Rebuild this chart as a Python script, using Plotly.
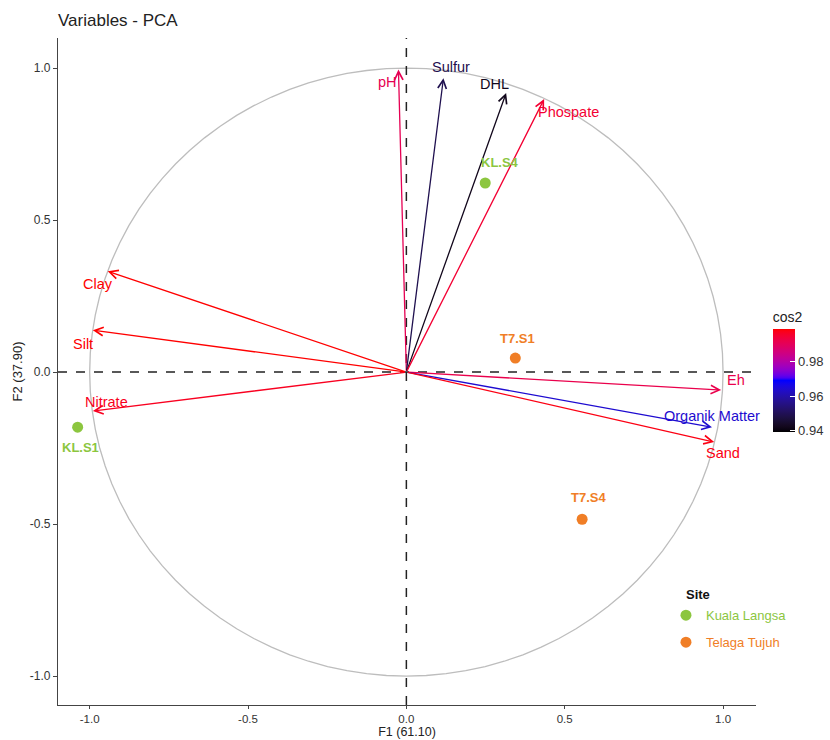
import numpy as np
import plotly.graph_objects as go

# ---- data ----
variables = ["pH", "Sulfur", "DHL", "Phospate", "Clay", "Silt", "Nitrate", "Eh", "Organik Matter", "Sand"]
var_x = [-0.025, 0.117, 0.315, 0.435, -0.943, -0.990, -0.990, 0.994, 0.965, 0.972]
var_y = [0.995, 0.967, 0.918, 0.898, 0.332, 0.138, -0.128, -0.059, -0.181, -0.230]
var_cos2 = [0.991, 0.949, 0.942, 0.995, 0.999, 0.999, 0.997, 0.992, 0.964, 0.998]
label_x = [-0.060, 0.142, 0.278, 0.513, -0.975, -1.022, -0.948, 1.040, 0.965, 1.000]
label_y = [0.955, 1.003, 0.948, 0.855, 0.290, 0.094, -0.098, -0.026, -0.144, -0.266]

sites = ["Kuala Langsa", "Telaga Tujuh"]
site_colors = ["#8CC63F", "#F07E26"]
obs_names = ["KL.S4", "KL.S1", "T7.S1", "T7.S4"]
obs_site = [0, 0, 1, 1]
obs_x = [0.249, -1.038, 0.344, 0.555]
obs_y = [0.622, -0.181, 0.046, -0.484]
obs_lab_x = [0.297, -1.030, 0.350, 0.574]
obs_lab_y = [0.688, -0.247, 0.112, -0.411]

cmin, cmax = 0.939, 0.999
anchor_cols = ["#000000", "#0000FF", "#FF0000"]


# ---- Lab-space colour interpolation (like ggplot gradientn) ----
def _srgb_to_lab(h):
    rgb = np.array([int(h[i:i + 2], 16) for i in (1, 3, 5)]) / 255.0
    lin = np.where(rgb <= 0.04045, rgb / 12.92, ((rgb + 0.055) / 1.055) ** 2.4)
    M = np.array([[0.4124, 0.3576, 0.1805], [0.2126, 0.7152, 0.0722], [0.0193, 0.1192, 0.9505]])
    xyz = M @ lin / np.array([0.95047, 1.0, 1.08883])
    f = np.where(xyz > 0.008856, np.cbrt(xyz), 7.787 * xyz + 16 / 116)
    return np.array([116 * f[1] - 16, 500 * (f[0] - f[1]), 200 * (f[1] - f[2])])


def _lab_to_rgbstr(lab):
    L, a, b = lab
    fy = (L + 16) / 116
    fx = fy + a / 500
    fz = fy - b / 200
    f = np.array([fx, fy, fz])
    xyz = np.where(f ** 3 > 0.008856, f ** 3, (f - 16 / 116) / 7.787) * np.array([0.95047, 1.0, 1.08883])
    Minv = np.array([[3.2406, -1.5372, -0.4986], [-0.9689, 1.8758, 0.0415], [0.0557, -0.2040, 1.0570]])
    lin = np.clip(Minv @ xyz, 0, 1)
    rgb = np.where(lin <= 0.0031308, 12.92 * lin, 1.055 * lin ** (1 / 2.4) - 0.055)
    rgb = np.clip(np.round(rgb * 255), 0, 255).astype(int)
    return f"rgb({rgb[0]},{rgb[1]},{rgb[2]})"


_labs = [_srgb_to_lab(c) for c in anchor_cols]


def lab_color(t):
    t = min(max(t, 0.0), 1.0)
    seg = min(int(t * 2), 1)
    u = t * 2 - seg
    return _lab_to_rgbstr(_labs[seg] * (1 - u) + _labs[seg + 1] * u)


stops = np.linspace(0, 1, 41)
cscale = [[float(s), lab_color(s)] for s in stops]

W, H = 830, 740

fig = go.Figure()

# correlation circle
t = np.linspace(0, 2 * np.pi, 101)
fig.add_trace(go.Scatter(x=np.cos(t), y=np.sin(t), mode="lines",
                         line=dict(color="#BDBDBD", width=1.3),
                         showlegend=False, hoverinfo="skip"))

# colorbar carrier
fig.add_trace(go.Scatter(x=var_x, y=var_y, mode="markers",
                         marker=dict(size=0.1, color=var_cos2, colorscale=cscale,
                                     cmin=cmin, cmax=cmax, showscale=True,
                                     colorbar=dict(title=dict(text="cos2", side="top",
                                                              font=dict(size=14, color="#222")),
                                                   thickness=22, len=124, lenmode="pixels",
                                                   x=1.024, xanchor="left", xpad=0, ypad=0,
                                                   y=0.409, yanchor="bottom",
                                                   tickvals=[0.94, 0.96, 0.98],
                                                   ticktext=["0.94", "0.96", "0.98"],
                                                   tickfont=dict(size=13, color="#333"),
                                                   outlinewidth=0, ticks="inside",
                                                   tickcolor="white", ticklen=5)),
                         showlegend=False, hoverinfo="skip"))

# observations
for s, (sname, scol) in enumerate(zip(sites, site_colors)):
    xs = [x for x, k in zip(obs_x, obs_site) if k == s]
    ys = [y for y, k in zip(obs_y, obs_site) if k == s]
    fig.add_trace(go.Scatter(x=xs, y=ys, mode="markers",
                             marker=dict(size=11, color=scol), legendgroup=sname,
                             name=f'<span style="color:{scol}">{sname}</span>'))

var_colors = [lab_color((c - cmin) / (cmax - cmin)) for c in var_cos2]

annotations = []
for name, x, y, col, lx, ly in zip(variables, var_x, var_y, var_colors, label_x, label_y):
    annotations.append(dict(x=x, y=y, ax=0, ay=0, xref="x", yref="y", axref="x", ayref="y",
                            showarrow=True, arrowhead=5, arrowsize=1.3, arrowwidth=1.3,
                            arrowcolor=col, text=""))
    annotations.append(dict(x=lx, y=ly, xref="x", yref="y", text=name, showarrow=False,
                            font=dict(size=14.5, color=col)))
for name, s, lx, ly in zip(obs_names, obs_site, obs_lab_x, obs_lab_y):
    annotations.append(dict(x=lx, y=ly, xref="x", yref="y", text=f"<b>{name}</b>",
                            showarrow=False, font=dict(size=13, color=site_colors[s])))
annotations.append(dict(x=0.897, y=0.166, xref="paper", yref="paper", xanchor="left",
                        yanchor="middle", text="<b>Site</b>", showarrow=False,
                        font=dict(size=13, color="#111")))

fig.update_layout(
    width=W, height=H,
    margin=dict(l=58, r=74, t=38, b=35, autoexpand=False),
    plot_bgcolor="white", paper_bgcolor="white",
    font=dict(family="Liberation Sans, Arial, sans-serif", color="#222"),
    title=dict(text="Variables - PCA", x=58 / W, xanchor="left",
               y=1 - 20 / H, yref="container",
               yanchor="middle", font=dict(size=17, color="#222")),
    annotations=annotations,
    legend=dict(x=0.871, y=0.157, xanchor="left", yanchor="top",
                font=dict(size=13), bgcolor="rgba(0,0,0,0)", tracegroupgap=7),
    shapes=[
        dict(type="line", xref="x", yref="paper", x0=0, x1=0, y0=0, y1=1,
             line=dict(color="#222", width=1.5, dash="dash")),
        dict(type="line", xref="paper", yref="y", x0=0, x1=1, y0=0, y1=0,
             line=dict(color="#222", width=1.5, dash="dash")),
    ],
)
fig.update_xaxes(range=[-1.1, 1.104], tickvals=[-1, -0.5, 0, 0.5, 1],
                 ticktext=["-1.0", "-0.5", "0.0", "0.5", "1.0"], automargin=False,
                 showgrid=False, zeroline=False, showline=True, linecolor="#444", linewidth=1.2,
                 ticks="outside", ticklen=3, tickcolor="#444", tickfont=dict(size=11.5, color="#333"),
                 title=dict(text="F1 (61.10)", font=dict(size=12.5, color="#222"), standoff=3))
fig.update_yaxes(range=[-1.095, 1.099], tickvals=[-1, -0.5, 0, 0.5, 1],
                 ticktext=["-1.0", "-0.5", "0.0", "0.5", "1.0"], automargin=False,
                 showgrid=False, zeroline=False, showline=True, linecolor="#444", linewidth=1.2,
                 ticks="outside", ticklen=4, tickcolor="#444", tickfont=dict(size=12, color="#333"),
                 title=dict(text="F2 (37.90)", font=dict(size=13, color="#222"), standoff=4))

fig.write_html("out.html", config={"displayModeBar": False},
               post_script="document.body.style.margin='0';document.body.style.overflow='hidden';")
